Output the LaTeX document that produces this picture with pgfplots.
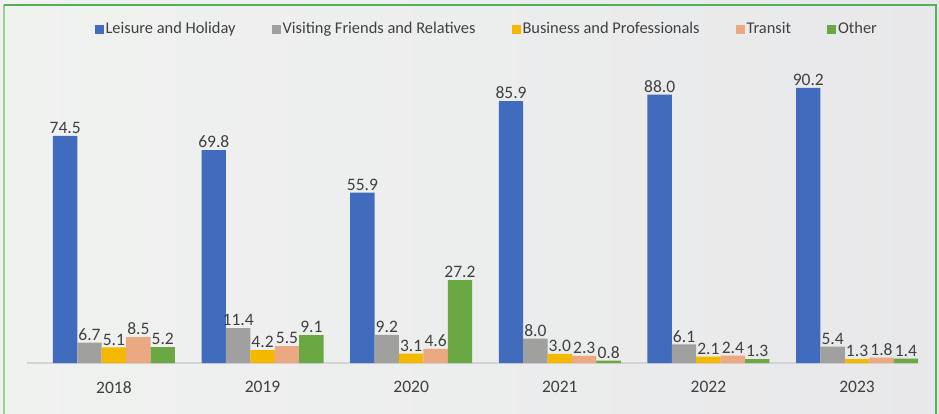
\documentclass[border=0pt]{standalone}
\usepackage{pgfplots}
\pgfplotsset{compat=1.18}
\usepackage{fontspec}
\setmainfont{Carlito}
\definecolor{cblue}{HTML}{416CBE}
\definecolor{cgray}{HTML}{A0A09F}
\definecolor{cgold}{HTML}{F5B800}
\definecolor{cpeach}{HTML}{EBA983}
\definecolor{cgreen}{HTML}{6AA844}
\definecolor{ctext}{HTML}{404040}
\definecolor{cframe}{HTML}{55B055}
\begin{document}
\begin{tikzpicture}[x=1pt,y=1pt]
\useasboundingbox (0,0) rectangle (939,413);
\shade[left color={rgb,255:red,240;green,242;blue,240}, right color={rgb,255:red,232;green,232;blue,234}] (0,0) rectangle (939,413);
\draw[cframe!60, line width=2pt] (4,-5) -- (4,408);
\draw[cframe, line width=1.5pt] (4,408) -- (936,408) -- (936,-5);
\begin{axis}[
  at={(27pt,50pt)}, anchor=south west,
  scale only axis, width=891pt, height=305pt,
  ymin=0, ymax=100,
  xmin=-0.585, xmax=5.41,
  axis x line*=bottom, axis y line=none,
  x axis line style={draw={rgb,255:red,212;green,212;blue,212}, line width=1.5pt, -},
  xtick={0,1,2,3,4,5},
  xticklabels={2018,2019,2020,2021,2022,2023},
  major tick length=0pt,
  xticklabel style={font=\fontsize{17.5}{20}\selectfont, text=ctext, yshift=-15pt},
  ybar=0pt, bar width=24.4pt,
  nodes near coords,
  nodes near coords style={font=\fontsize{17.5}{20}\selectfont, text=ctext, inner sep=2pt,
    /pgf/number format/.cd, fixed, fixed zerofill, precision=1, assume math mode=true},
  legend columns=5,
  legend style={at={(0.516,1.095)}, anchor=center, draw=none, fill=none,
    font=\fontsize{16.4}{19}\selectfont, text=ctext,
    /tikz/every even column/.append style={column sep=34pt}},
  legend cell align=left,
  legend image code/.code={\fill[#1] (0pt,-4.5pt) rectangle (9pt,4.5pt);},
  clip=false,
]
\addplot[fill=cblue, draw=none] coordinates {(0,74.5) (1,69.8) (2,55.9) (3,85.9) (4,88.0) (5,90.2)};
\addplot[fill=cgray, draw=none] coordinates {(0,6.7) (1,11.4) (2,9.2) (3,8.0) (4,6.1) (5,5.4)};
\addplot[fill=cgold, draw=none] coordinates {(0,5.1) (1,4.2) (2,3.1) (3,3.0) (4,2.1) (5,1.3)};
\addplot[fill=cpeach, draw=none] coordinates {(0,8.5) (1,5.5) (2,4.6) (3,2.3) (4,2.4) (5,1.8)};
\addplot[fill=cgreen, draw=none] coordinates {(0,5.2) (1,9.1) (2,27.2) (3,0.8) (4,1.3) (5,1.4)};
\legend{Leisure and Holiday, Visiting Friends and Relatives, Business and Professionals, Transit, Other}
\end{axis}
\end{tikzpicture}
\end{document}
